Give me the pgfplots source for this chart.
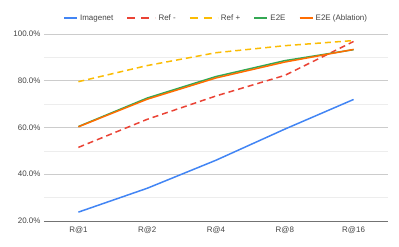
\documentclass[border=0pt]{standalone}
\usepackage{pgfplots}
\pgfplotsset{compat=1.18}
\usepackage{fontspec}
\setmainfont{Liberation Sans}
\definecolor{cblue}{HTML}{4285F4}
\definecolor{cred}{HTML}{EA4335}
\definecolor{cyellow}{HTML}{FBBC04}
\definecolor{cgreen}{HTML}{34A853}
\definecolor{corange}{HTML}{FF6D01}
\definecolor{labgray}{HTML}{444444}
\pgfplotsset{
  legsolid/.style={legend image code/.code={\draw[##1, line width=2.2bp] (0bp,0bp) -- (13bp,0bp);}},
  legdash/.style={legend image code/.code={\draw[##1, line width=2.2bp, dash pattern=on 8bp off 6bp] (0bp,0bp) -- (28bp,0bp);}},
}
\begin{document}
\begin{tikzpicture}[x=1bp,y=1bp]
\path[use as bounding box] (0,0) rectangle (399,247);
\begin{axis}[
  at={(44bp,26bp)}, anchor=south west,
  scale only axis, width=344bp, height=187bp,
  xmin=-0.5, xmax=4.5, ymin=20, ymax=100,
  xtick={0,1,2,3,4}, xticklabels={R@1,R@2,R@4,R@8,R@16},
  ytick={20,40,60,80,100},
  minor ytick={30,50,70,90},
  yticklabel={\pgfmathprintnumber[fixed,fixed zerofill,precision=1]{\tick}\%},
  /pgf/number format/assume math mode=true,
  ticklabel style={font=\fontsize{8}{9}\selectfont, text=labgray},
  xticklabel style={yshift=-2bp},
  major tick length=0pt, minor tick length=0pt,
  axis line style={draw=none},
  axis x line*=bottom, axis y line*=left,
  ymajorgrids, yminorgrids,
  major grid style={draw=black!20, line width=0.6bp},
  minor grid style={draw=black!7, line width=0.6bp},
  clip=false,
  legend style={at={(0.5,1.0)}, anchor=south, yshift=8bp, draw=none, fill=none,
     font=\fontsize{8}{9}\selectfont, text=labgray, legend columns=-1,
     /tikz/every even column/.append style={column sep=11bp}},
  every axis plot/.append style={line width=1.5bp},
]
\draw[black!55, line width=0.8bp] (axis cs:-0.5,20) -- (axis cs:4.5,20);
\addplot[cblue, legsolid] coordinates {(0,23.8) (1,34.0) (2,46.0) (3,59.3) (4,72.0)};
\addlegendentry{Imagenet}
\addplot[cred, dash pattern=on 6bp off 4bp, legdash] coordinates {(0,51.5) (1,63.5) (2,73.5) (3,82.3) (4,96.8)};
\addlegendentry{Ref -}
\addplot[cyellow, dash pattern=on 6bp off 4bp, legdash] coordinates {(0,79.6) (1,86.5) (2,92.0) (3,95.0) (4,97.2)};
\addlegendentry{Ref +}
\addplot[cgreen, legsolid] coordinates {(0,60.4) (1,72.6) (2,81.8) (3,88.6) (4,93.3)};
\addlegendentry{E2E}
\addplot[corange, legsolid] coordinates {(0,60.3) (1,72.1) (2,81.2) (3,88.0) (4,93.4)};
\addlegendentry{E2E (Ablation)}
\end{axis}
\end{tikzpicture}
\end{document}
